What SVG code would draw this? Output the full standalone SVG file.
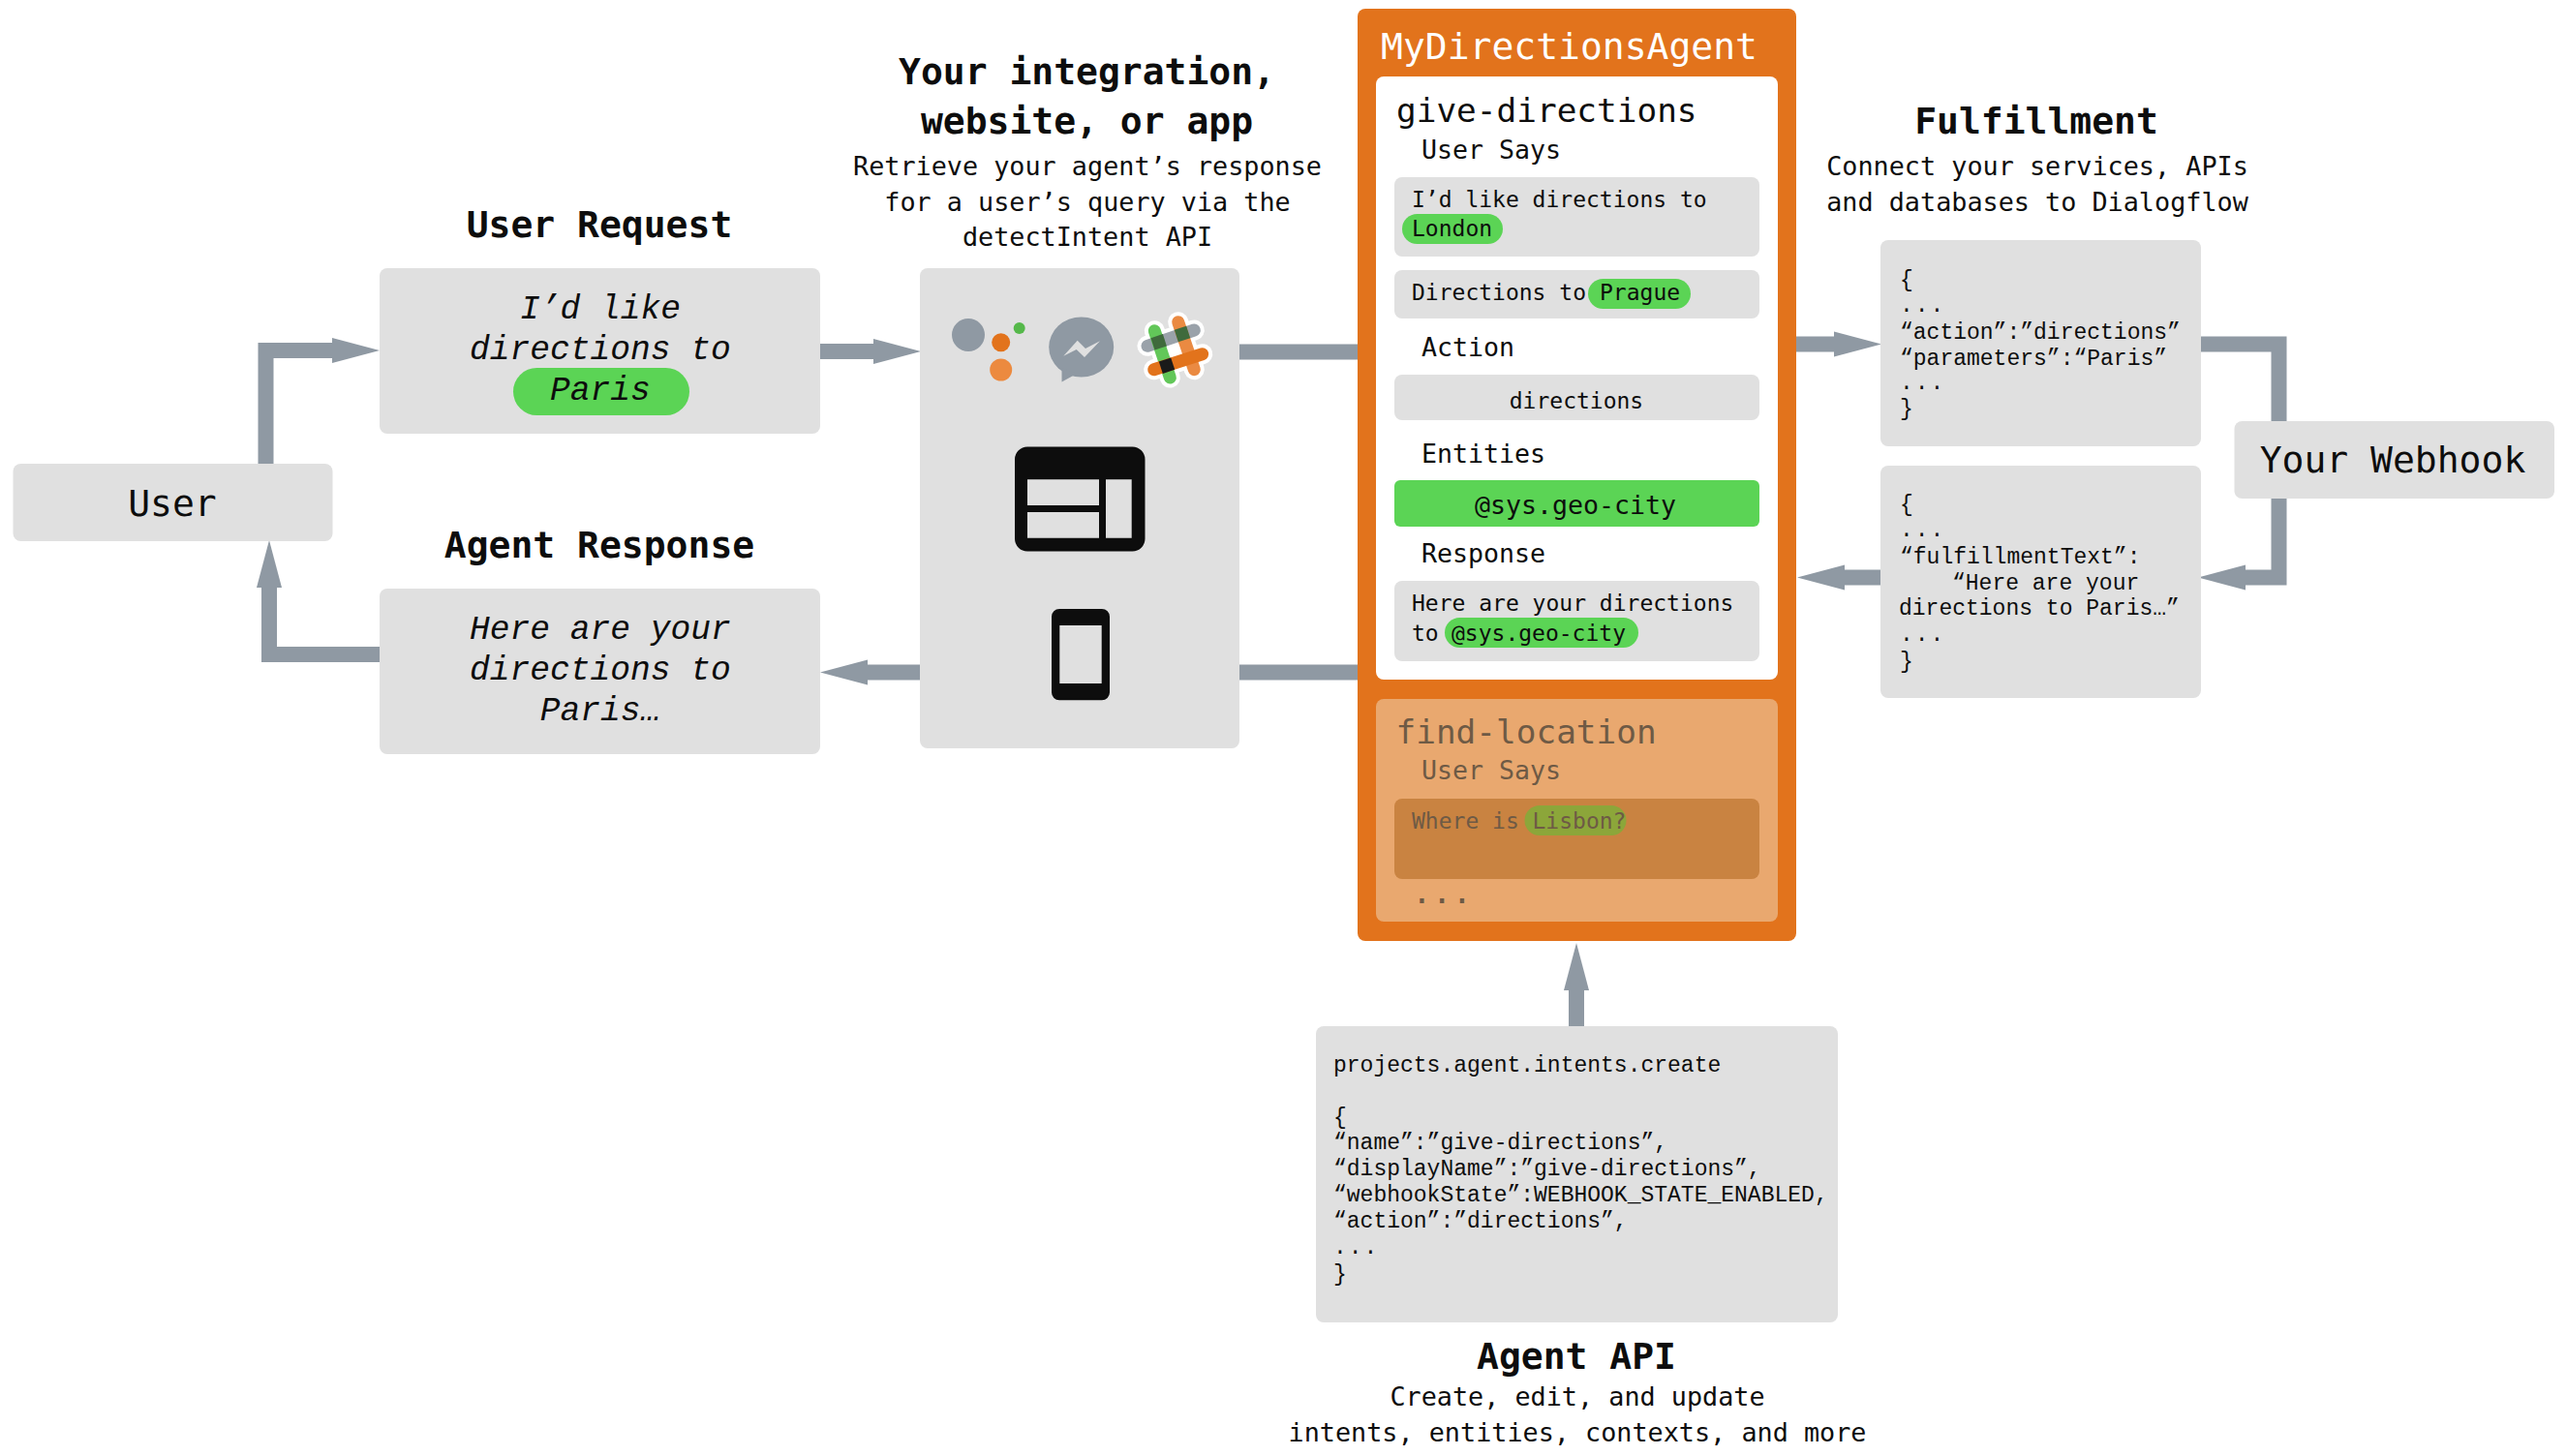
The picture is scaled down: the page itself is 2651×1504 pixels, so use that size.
<svg xmlns="http://www.w3.org/2000/svg" width="2651" height="1504" viewBox="0 0 2651 1504">
<style>
text{font-family:"DejaVu Sans Mono","Liberation Mono",monospace;fill:#0d0d0d;white-space:pre}
.box{fill:#e0e0e0}
.pill{fill:#5bd455}
.title{font-size:38px;font-weight:700;text-anchor:middle}
.sub{font-size:26.8px;text-anchor:middle}
.say{font-family:"Liberation Mono",monospace;font-style:italic;font-size:34.6px;text-anchor:middle}
.node{font-size:38px;text-anchor:middle}
.h1{font-size:34.4px}
.h2{font-size:26.6px}
.t{font-size:23px}
.code{font-family:"Liberation Mono",monospace;font-size:23px}
.fade{fill:#6e5a45}
.conn{fill:none;stroke:#8f99a3;stroke-width:16;stroke-linejoin:miter}
.ah{fill:#8f99a3}
</style>
<defs>
<marker id="head" markerUnits="userSpaceOnUse" markerWidth="50" markerHeight="28" viewBox="0 0 50 28" refX="1" refY="14" orient="auto"><path class="ah" d="M0,1L49,14L0,27Z"/></marker>
</defs>
<rect width="2651" height="1504" fill="#fff"/>
<g id="connectors">
<path class="conn" marker-end="url(#head)" d="M274.500,479V362H344"/>
<path class="conn" marker-end="url(#head)" d="M395,676H278V606"/>
<path class="conn" marker-end="url(#head)" d="M847,363H903"/>
<path class="conn" d="M1280,363.500H1402"/>
<path class="conn" d="M1402,694.500H1280"/>
<path class="conn" marker-end="url(#head)" d="M950,694.500H895"/>
<path class="conn" marker-end="url(#head)" d="M1855,355.500H1895"/>
<path class="conn" d="M2273,355.500H2353.500V435"/>
<path class="conn" marker-end="url(#head)" d="M2353.500,515V596.500H2318"/>
<path class="conn" marker-end="url(#head)" d="M1942,596.500H1904"/>
<path class="conn" marker-end="url(#head)" d="M1628,1060V1022"/>
</g>
<g id="user"><rect class="box" x="13.500" y="479" width="330" height="80" rx="8"/><text class="node" x="178" y="533">User</text></g>
<g id="user-request">
<text class="title" x="619" y="244.500">User Request</text>
<rect class="box" x="392" y="277" width="455" height="171" rx="8"/>
<rect class="pill" x="530" y="380" width="182" height="49" rx="24.500"/>
<text class="say" x="620" y="328.500">I’d like</text>
<text class="say" x="620" y="370.500">directions to</text>
<text class="say" x="620" y="412.500">Paris</text>
</g>
<g id="agent-response">
<text class="title" x="619" y="575.500">Agent Response</text>
<rect class="box" x="392" y="608" width="455" height="171" rx="8"/>
<text class="say" x="620" y="660">Here are your</text>
<text class="say" x="620" y="702">directions to</text>
<text class="say" x="620" y="744">Paris…</text>
</g>
<g id="integration">
<text class="title" x="1122.500" y="86.500">Your integration,</text>
<text class="title" x="1122.500" y="138">website, or app</text>
<text class="sub" x="1123" y="181">Retrieve your agent’s response</text>
<text class="sub" x="1123" y="218">for a user’s query via the</text>
<text class="sub" x="1123" y="254">detectIntent API</text>
<rect class="box" x="950" y="277" width="330" height="496" rx="8"/>
<circle cx="1000" cy="346" r="17" fill="#8f99a3"/>
<circle cx="1033.700" cy="353.700" r="9.500" fill="#e2731c"/>
<circle cx="1033.700" cy="382" r="11.500" fill="#ec8a3f"/>
<circle cx="1052.700" cy="339" r="6" fill="#55b84a"/>
<ellipse cx="1116.700" cy="358.500" rx="33.500" ry="31" fill="#8f99a3"/>
<path d="M1096.500,380V394.500L1112,386Z" fill="#8f99a3"/>
<path d="M1098.300,367.700L1112.700,351.700L1121,360L1136,352.300L1120,369L1111.700,361Z" fill="#e0e0e0"/>
<g fill="none" stroke-linecap="round">
<g stroke="#fff" stroke-width="21">
<path d="M1192.300,341.700L1208.300,390M1216.700,332.700L1233.300,381.700M1185,357.300L1233.300,341M1191.700,381.700L1241.700,365.700"/>
</g>
<path d="M1206,352L1222,366" stroke="#fff" stroke-width="16"/>
<g stroke-width="13">
<path d="M1185,357.300L1233.300,341" stroke="#9aa2aa"/>
<path d="M1216.700,332.700L1233.300,381.700" stroke="#ea8a42"/>
<path d="M1192.300,341.700L1208.300,390" stroke="#62c759"/>
<path d="M1191.700,381.700L1241.700,365.700" stroke="#e2731c"/>
</g>
</g>
<g fill="#3f6a3c">
<rect x="-6.500" y="-6.500" width="13" height="13" transform="translate(1196.700 353.300) rotate(-18)"/>
<rect x="-6.500" y="-6.500" width="13" height="13" transform="translate(1221 345) rotate(-18)"/>
<rect x="-6.500" y="-6.500" width="13" height="13" transform="translate(1205 377.700) rotate(-18)" fill="#1a1a1a"/>
</g>
<path fill-rule="evenodd" fill="#0d0d0d" d="M1061,461.500H1169.500A13,13 0 0 1 1182.500,474.500V556.500A13,13 0 0 1 1169.500,569.500H1061A13,13 0 0 1 1048,556.500V474.500A13,13 0 0 1 1061,461.500ZM1061,495.300V522H1135V495.300ZM1061,529V555.700H1135V529ZM1142,495.300V555.700H1168.700V495.300Z"/>
<path fill-rule="evenodd" fill="#0d0d0d" d="M1094,629H1138A8,8 0 0 1 1146,637V715.300A8,8 0 0 1 1138,723.300H1094A8,8 0 0 1 1086,715.300V637A8,8 0 0 1 1094,629ZM1094.300,646V706H1137.700V646Z"/>
</g>
<g id="agent">
<rect x="1402" y="9" width="453" height="963" rx="8" fill="#e2731c"/>
<text x="1426" y="60.500" font-size="38" style="fill:#fff">MyDirectionsAgent</text>
</g>
<g id="give-directions">
<rect x="1421" y="79" width="415" height="623" rx="8" fill="#fff"/>
<text class="h1" x="1442" y="125.500">give-directions</text>
<text class="h2" x="1468" y="163.500">User Says</text>
<rect class="box" x="1440" y="183" width="377" height="82" rx="8"/>
<text class="t" x="1458" y="214">I’d like directions to</text>
<rect class="pill" x="1448" y="221" width="104" height="31" rx="15.500"/>
<text class="t" x="1458" y="244">London</text>
<rect class="box" x="1440" y="279" width="377" height="50" rx="8"/>
<text class="t" x="1458" y="310">Directions to</text>
<rect class="pill" x="1640" y="288" width="106" height="31" rx="15.500"/>
<text class="t" x="1652" y="310">Prague</text>
<text class="h2" x="1468" y="367.500">Action</text>
<rect class="box" x="1440" y="387" width="377" height="47" rx="8"/>
<text class="t" x="1628" y="422" text-anchor="middle">directions</text>
<text class="h2" x="1468" y="477.500">Entities</text>
<rect class="pill" x="1440" y="496" width="377" height="48" rx="6"/>
<text class="h2" x="1627" y="531" text-anchor="middle">@sys.geo-city</text>
<text class="h2" x="1468" y="581">Response</text>
<rect class="box" x="1440" y="600" width="377" height="83" rx="8"/>
<text class="t" x="1458" y="631">Here are your directions</text>
<text class="t" x="1458" y="662">to</text>
<rect class="pill" x="1492" y="638" width="200" height="31" rx="15.500"/>
<text class="t" x="1499" y="662">@sys.geo-city</text>
</g>
<g id="find-location">
<rect x="1421" y="722" width="415" height="230" rx="8" fill="#e9a86f"/>
<text class="h1 fade" x="1441.500" y="767.500">find-location</text>
<text class="h2 fade" x="1468" y="805">User Says</text>
<rect x="1440" y="825" width="377" height="83" rx="8" fill="#c98341"/>
<text class="t fade" x="1458" y="856">Where is</text>
<rect x="1574.500" y="832" width="105" height="31" rx="15.500" fill="#8ca63a"/>
<text class="t fade" x="1582.500" y="856">Lisbon?</text>
<text class="h1 fade" x="1458" y="933">...</text>
</g>
<g id="fulfillment">
<text class="title" x="2103" y="137.500">Fulfillment</text>
<text class="sub" x="2104" y="181">Connect your services, APIs</text>
<text class="sub" x="2104" y="218">and databases to Dialogflow</text>
<rect class="box" x="1942" y="248" width="331" height="213" rx="8"/>
<text class="code" x="1962" y="296">{</text>
<text class="code" x="1962" y="322" letter-spacing="2">...</text>
<text class="code" x="1962" y="349.500">“action”:”directions”</text>
<text class="code" x="1962" y="376.500">“parameters”:“Paris”</text>
<text class="code" x="1962" y="402" letter-spacing="2">...</text>
<text class="code" x="1962" y="429">}</text>
<rect class="box" x="1942" y="481" width="331" height="240" rx="8"/>
<text class="code" x="1962" y="528">{</text>
<text class="code" x="1962" y="554" letter-spacing="2">...</text>
<text class="code" x="1962" y="582">“fulfillmentText”:</text>
<text class="code" x="2016" y="608.500">“Here are your</text>
<text class="code" x="1961" y="635">directions to Paris…”</text>
<text class="code" x="1962" y="662" letter-spacing="2">...</text>
<text class="code" x="1962" y="690">}</text>
</g>
<g id="webhook"><rect class="box" x="2307.500" y="435" width="330.500" height="80" rx="8"/><text class="node" x="2471" y="488">Your Webhook</text></g>
<g id="agent-api">
<rect class="box" x="1359" y="1060" width="539" height="306" rx="8"/>
<text class="code" x="1377" y="1106.500">projects.agent.intents.create</text>
<text class="code" x="1377" y="1161">{</text>
<text class="code" x="1377" y="1187">“name”:”give-directions”,</text>
<text class="code" x="1377" y="1214">“displayName”:”give-directions”,</text>
<text class="code" x="1377" y="1240.500">“webhookState”:WEBHOOK_STATE_ENABLED,</text>
<text class="code" x="1377" y="1267.500">“action”:”directions”,</text>
<text class="code" x="1377" y="1295" letter-spacing="2">...</text>
<text class="code" x="1377" y="1323">}</text>
<text class="title" x="1628" y="1413.500">Agent API</text>
<text class="sub" x="1629" y="1452">Create, edit, and update</text>
<text class="sub" x="1629" y="1488.500">intents, entities, contexts, and more</text>
</g>
</svg>
